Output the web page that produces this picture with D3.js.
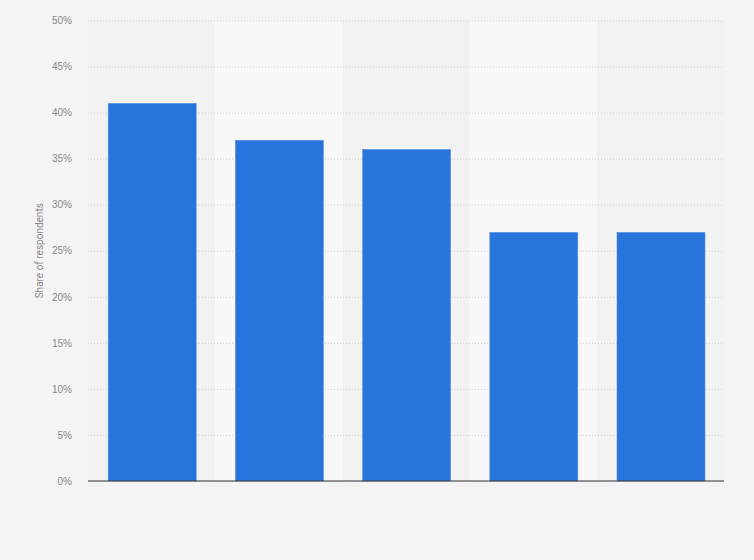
<!DOCTYPE html>
<html>
<head>
<meta charset="utf-8">
<script src="https://cdn.jsdelivr.net/npm/d3@7"></script>
<style>
  html, body { margin: 0; padding: 0; background: #f4f4f4; }
  svg { display: block; font-family: Roboto, "Open Sans", Arial, sans-serif; }
</style>
</head>
<body>
<svg id="chart" width="754" height="560"></svg>
<script>
// ---- DATA ----
const categories = ['A', 'B', 'C', 'D', 'E'];
const values = [41, 37, 36, 27, 27];
const yTicks = [0, 5, 10, 15, 20, 25, 30, 35, 40, 45, 50];

// ---- LAYOUT ----
const W = 754, H = 560;
const margin = { top: 20.5, right: 30, bottom: 79, left: 88 };
const innerW = W - margin.left - margin.right;
const innerH = H - margin.top - margin.bottom;

const svg = d3.select('#chart');

const x = d3.scaleBand()
  .domain(categories)
  .range([0, innerW])
  .paddingInner(0.308)
  .paddingOuter(0.154);

const y = d3.scaleLinear().domain([0, 50]).range([innerH, 0]);

const g = svg.append('g').attr('transform', `translate(${margin.left},${margin.top})`);

// alternating column bands
const step = innerW / categories.length;
g.selectAll('rect.band')
  .data(categories)
  .join('rect')
  .attr('class', 'band')
  .attr('x', (d, i) => i * step)
  .attr('y', 0)
  .attr('width', step)
  .attr('height', innerH)
  .attr('fill', (d, i) => i % 2 ? '#f8f8f8' : '#f2f2f2');

// gridlines
g.append('g')
  .call(d3.axisLeft(y).tickValues(yTicks).tickSize(-innerW).tickFormat(''))
  .call(s => s.select('.domain').remove())
  .call(s => s.selectAll('line')
    .attr('stroke', '#cfcfcf')
    .attr('stroke-width', 1)
    .attr('stroke-dasharray', '1,2'));

// y tick labels
g.append('g')
  .call(d3.axisLeft(y).tickValues(yTicks).tickSize(0).tickPadding(16).tickFormat(d => d + '%'))
  .call(s => s.select('.domain').remove())
  .call(s => s.selectAll('text')
    .attr('fill', '#888')
    .attr('font-size', '10px'));

// bars
g.selectAll('rect.bar')
  .data(values)
  .join('rect')
  .attr('class', 'bar')
  .attr('x', (d, i) => x(categories[i]) + 0.6)
  .attr('y', d => y(d))
  .attr('width', x.bandwidth())
  .attr('height', d => innerH - y(d))
  .attr('fill', '#2775db')
  .attr('stroke', '#5a95e4')
  .attr('stroke-width', 0.6);

// baseline
g.append('line')
  .attr('x1', 0).attr('x2', innerW)
  .attr('y1', innerH).attr('y2', innerH)
  .attr('stroke', '#333')
  .attr('stroke-width', 1.2);

// y axis title
svg.append('text')
  .attr('transform', `translate(43,${margin.top + innerH / 2}) rotate(-90)`)
  .attr('text-anchor', 'middle')
  .attr('fill', '#888')
  .attr('font-size', '10px')
  .text('Share of respondents');
</script>
</body>
</html>
